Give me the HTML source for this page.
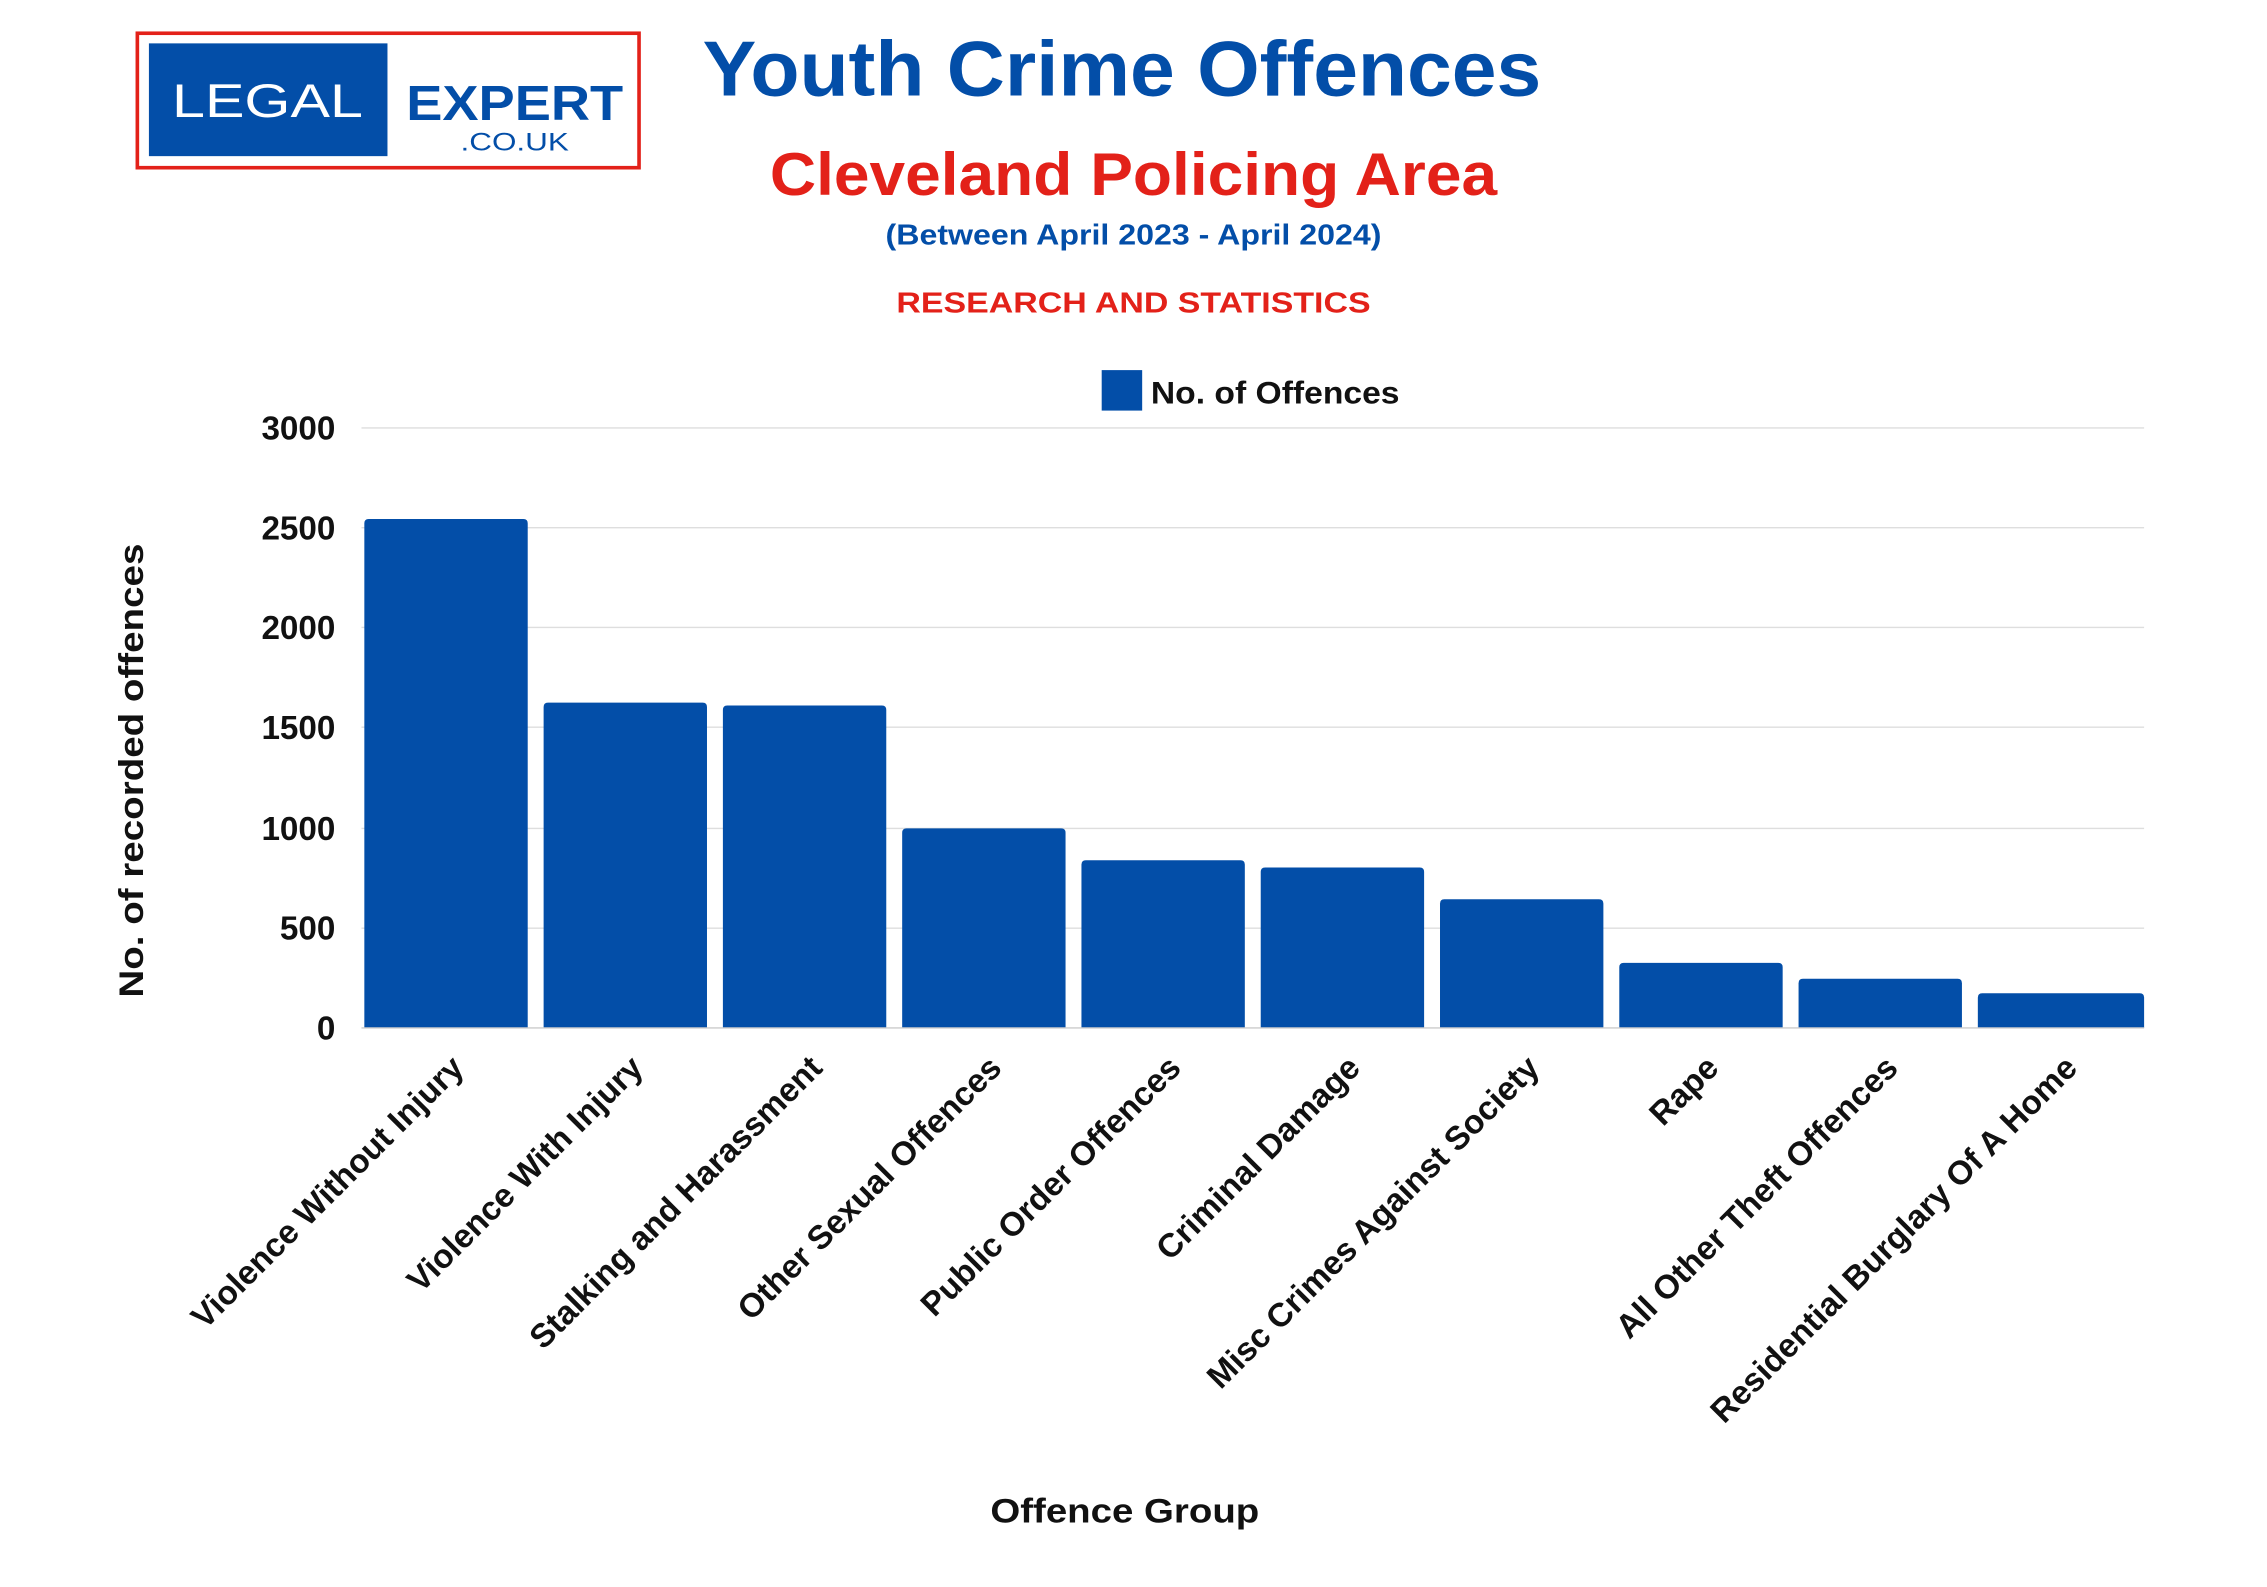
<!DOCTYPE html>
<html><head><meta charset="utf-8"><style>
html,body{margin:0;padding:0;background:#fff;}
svg{display:block;}
text{font-family:"Liberation Sans",sans-serif;font-weight:bold;}
</style></head><body>
<svg width="2267" height="1587" viewBox="0 0 1568 1097.7" preserveAspectRatio="none" xmlns="http://www.w3.org/2000/svg">
<rect x="0" y="0" width="1568" height="1098" fill="#fff"/>
<!-- logo -->
<rect x="95" y="23" width="347" height="93" fill="#fff" stroke="#e32119" stroke-width="2.5"/>
<rect x="103" y="30" width="165" height="78" fill="#034ea8"/>
<text x="185" y="81" font-size="33" fill="#fff" text-anchor="middle" style="font-weight:normal" textLength="132" lengthAdjust="spacingAndGlyphs">LEGAL</text>
<text x="356" y="83" font-size="34" fill="#034ea8" text-anchor="middle" textLength="150" lengthAdjust="spacingAndGlyphs">EXPERT</text>
<text x="356" y="104" font-size="17" fill="#034ea8" text-anchor="middle" style="font-weight:normal" textLength="75" lengthAdjust="spacingAndGlyphs">.CO.UK</text>
<!-- titles -->
<text x="776" y="66" font-size="54" fill="#034ea8" text-anchor="middle" textLength="580" lengthAdjust="spacingAndGlyphs">Youth Crime Offences</text>
<text x="784" y="135" font-size="42" fill="#e32119" text-anchor="middle" textLength="503" lengthAdjust="spacingAndGlyphs">Cleveland Policing Area</text>
<text x="784" y="169" font-size="20" fill="#034ea8" text-anchor="middle" textLength="343" lengthAdjust="spacingAndGlyphs">(Between April 2023 - April 2024)</text>
<text x="784" y="216" font-size="20" fill="#e32119" text-anchor="middle" textLength="328" lengthAdjust="spacingAndGlyphs">RESEARCH AND STATISTICS</text>
<!-- legend -->
<rect x="762" y="256" width="28" height="28" fill="#034ea8"/>
<text x="796" y="279" font-size="22" fill="#111" textLength="172" lengthAdjust="spacingAndGlyphs">No. of Offences</text>
<!-- grid -->
<g stroke="#dedede" stroke-width="1">
<line x1="250" y1="296" x2="1483" y2="296"/>
<line x1="250" y1="365" x2="1483" y2="365"/>
<line x1="250" y1="434" x2="1483" y2="434"/>
<line x1="250" y1="503" x2="1483" y2="503"/>
<line x1="250" y1="573" x2="1483" y2="573"/>
<line x1="250" y1="642" x2="1483" y2="642"/>
</g>
<g font-size="23" fill="#111" text-anchor="end">
<text x="232" y="304">3000</text>
<text x="232" y="373">2500</text>
<text x="232" y="442">2000</text>
<text x="232" y="511">1500</text>
<text x="232" y="581">1000</text>
<text x="232" y="650">500</text>
<text x="232" y="719">0</text>
</g>
<text transform="translate(99,533) rotate(-90)" font-size="24" fill="#111" text-anchor="middle" textLength="314" lengthAdjust="spacingAndGlyphs">No. of recorded offences</text>
<!-- bars -->
<g fill="#034ea8">
<path d="M252,711 V362 Q252,359 255,359 H362 Q365,359 365,362 V711Z"/>
<path d="M376,711 V489 Q376,486 379,486 H486 Q489,486 489,489 V711Z"/>
<path d="M500,711 V491 Q500,488 503,488 H610 Q613,488 613,491 V711Z"/>
<path d="M624,711 V576 Q624,573 627,573 H734 Q737,573 737,576 V711Z"/>
<path d="M748,711 V598 Q748,595 751,595 H858 Q861,595 861,598 V711Z"/>
<path d="M872,711 V603 Q872,600 875,600 H982 Q985,600 985,603 V711Z"/>
<path d="M996,711 V625 Q996,622 999,622 H1106 Q1109,622 1109,625 V711Z"/>
<path d="M1120,711 V669 Q1120,666 1123,666 H1230 Q1233,666 1233,669 V711Z"/>
<path d="M1244,711 V680 Q1244,677 1247,677 H1354 Q1357,677 1357,680 V711Z"/>
<path d="M1368,711 V690 Q1368,687 1371,687 H1480 Q1483,687 1483,690 V711Z"/>
</g>
<line x1="250" y1="711" x2="1483" y2="711" stroke="#ccc" stroke-width="1"/>
<!-- x labels -->
<g font-size="23" fill="#111" text-anchor="end">
<text transform="translate(322,740) rotate(-45)">Violence Without Injury</text>
<text transform="translate(446,740) rotate(-45)">Violence With Injury</text>
<text transform="translate(570,740) rotate(-45)">Stalking and Harassment</text>
<text transform="translate(694,740) rotate(-45)">Other Sexual Offences</text>
<text transform="translate(818,740) rotate(-45)">Public Order Offences</text>
<text transform="translate(942,740) rotate(-45)">Criminal Damage</text>
<text transform="translate(1066,740) rotate(-45)">Misc Crimes Against Society</text>
<text transform="translate(1190,740) rotate(-45)">Rape</text>
<text transform="translate(1314,740) rotate(-45)">All Other Theft Offences</text>
<text transform="translate(1438,740) rotate(-45)">Residential Burglary Of A Home</text>
</g>
<text x="778" y="1053" font-size="24" fill="#111" text-anchor="middle" textLength="186" lengthAdjust="spacingAndGlyphs">Offence Group</text>
</svg>
</body></html>
